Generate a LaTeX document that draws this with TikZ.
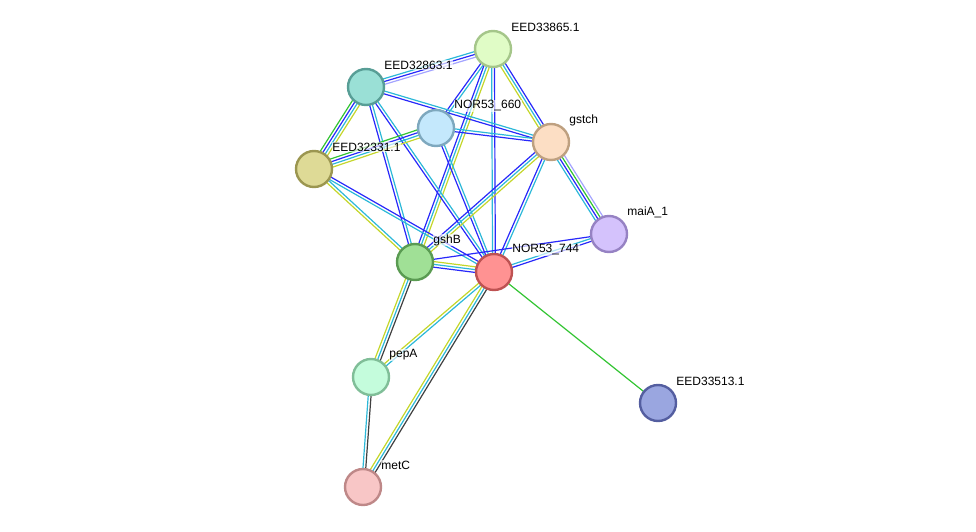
\documentclass[tikz,border=0pt]{standalone}
\usepackage{fontspec}
\setmainfont{Liberation Sans}
\usetikzlibrary{calc, backgrounds}

% evidence colours
\definecolor{evblue}{RGB}{40,40,250}
\definecolor{evcyan}{RGB}{44,184,216}
\definecolor{evgreen}{RGB}{50,196,50}
\definecolor{evyellow}{RGB}{196,214,42}
\definecolor{evblack}{RGB}{64,64,64}
\definecolor{evlav}{RGB}{164,164,255}
% node colours (fill, border)
\definecolor{f33865}{RGB}{224,252,198}\definecolor{d33865}{RGB}{165,198,138}
\definecolor{f32863}{RGB}{154,224,214}\definecolor{d32863}{RGB}{88,158,150}
\definecolor{f660}{RGB}{196,232,252}\definecolor{d660}{RGB}{126,168,190}
\definecolor{fgstch}{RGB}{252,222,196}\definecolor{dgstch}{RGB}{190,160,128}
\definecolor{f32331}{RGB}{222,218,150}\definecolor{d32331}{RGB}{155,150,80}
\definecolor{fmaia}{RGB}{212,194,252}\definecolor{dmaia}{RGB}{150,130,195}
\definecolor{fgshb}{RGB}{160,224,150}\definecolor{dgshb}{RGB}{90,155,82}
\definecolor{f744}{RGB}{255,146,146}\definecolor{d744}{RGB}{190,82,82}
\definecolor{fpepa}{RGB}{196,252,220}\definecolor{dpepa}{RGB}{128,190,152}
\definecolor{f33513}{RGB}{154,166,224}\definecolor{d33513}{RGB}{84,94,160}
\definecolor{fmetc}{RGB}{248,198,198}\definecolor{dmetc}{RGB}{190,136,136}

\tikzset{
    prot/.style 2 args={circle, draw=#2, fill=#1, line width=2.4pt, minimum size=36pt, inner sep=0pt,
        label distance=0pt},
    lbl/.style={xshift=-1.5pt, yshift=22pt, font=\fontsize{12}{14}\selectfont, fill=white, fill opacity=0.65, text opacity=1, inner sep=0.5pt},
    evline/.style={line width=1.2pt},
}

% parallel evidence lines between two nodes: from, to, count, colours
\newcommand{\lnk}[4]{%
    \foreach \col [count=\i] in {#4}{
        \pgfmathsetmacro{\off}{(\i-(#3+1)/2)*2.8}
        \draw[evline, color=\col] ($(#1)!\off pt!90:(#2)$) -- ($(#2)!\off pt!-90:(#1)$);
    }}

\begin{document}
\begin{tikzpicture}[x=1pt, y=-1pt]
    \useasboundingbox (0,0) rectangle (976,532);
    \node[prot={f33865}{d33865}, label={[lbl]right:EED33865.1}] (eed33865) at (493,49) {};
    \node[prot={f32863}{d32863}, label={[lbl]right:EED32863.1}] (eed32863) at (366,87) {};
    \node[prot={f660}{d660}, label={[lbl]right:NOR53\_660}] (nor660) at (436,128) {};
    \node[prot={fgstch}{dgstch}, label={[lbl]right:gstch}] (gstch) at (551,142) {};
    \node[prot={f32331}{d32331}, label={[lbl]right:EED32331.1}] (eed32331) at (314,169) {};
    \node[prot={fmaia}{dmaia}, label={[lbl]right:maiA\_1}] (maia) at (609,234) {};
    \node[prot={fgshb}{dgshb}, label={[lbl]right:gshB}] (gshb) at (415,262) {};
    \node[prot={f744}{d744}, label={[lbl]right:NOR53\_744}] (nor744) at (494,272) {};
    \node[prot={fpepa}{dpepa}, label={[lbl]right:pepA}] (pepa) at (371,377) {};
    \node[prot={f33513}{d33513}, label={[lbl]right:EED33513.1}] (eed33513) at (658,403) {};
    \node[prot={fmetc}{dmetc}, label={[lbl]right:metC}] (metc) at (363,487) {};

    \begin{scope}[on background layer]
        \lnk{eed33865}{eed32863}{3}{evcyan,evblue,evlav}
        \lnk{eed33865}{nor660}{2}{evblue,evcyan}
        \lnk{eed33865}{gstch}{3}{evyellow,evcyan,evblue}
        \lnk{eed33865}{nor744}{2}{evcyan,evblue}
        \lnk{eed33865}{gshb}{3}{evblue,evcyan,evyellow}
        \lnk{eed32863}{eed32331}{4}{evgreen,evblue,evcyan,evyellow}
        \lnk{eed32863}{gstch}{2}{evblue,evcyan}
        \lnk{eed32863}{gshb}{2}{evblue,evcyan}
        \lnk{eed32863}{nor744}{2}{evblue,evcyan}
        \lnk{eed32331}{nor660}{4}{evyellow,evcyan,evblue,evgreen}
        \lnk{eed32331}{gshb}{2}{evyellow,evcyan}
        \lnk{eed32331}{nor744}{2}{evcyan,evblue}
        \lnk{nor660}{gstch}{2}{evblue,evcyan}
        \lnk{nor660}{nor744}{2}{evblue,evcyan}
        \lnk{gstch}{maia}{4}{evcyan,evblue,evgreen,evlav}
        \lnk{gstch}{nor744}{2}{evblue,evcyan}
        \lnk{gstch}{gshb}{3}{evblue,evcyan,evyellow}
        \lnk{maia}{nor744}{2}{evcyan,evblue}
        \lnk{maia}{gshb}{1}{evblue}
        \lnk{gshb}{nor744}{3}{evblue,evcyan,evyellow}
        \lnk{gshb}{pepa}{3}{evyellow,evcyan,evblack}
        \lnk{nor744}{pepa}{2}{evyellow,evcyan}
        \lnk{nor744}{metc}{3}{evyellow,evcyan,evblack}
        \lnk{pepa}{metc}{2}{evcyan,evblack}
        \lnk{nor744}{eed33513}{1}{evgreen}
    \end{scope}
\end{tikzpicture}
\end{document}
